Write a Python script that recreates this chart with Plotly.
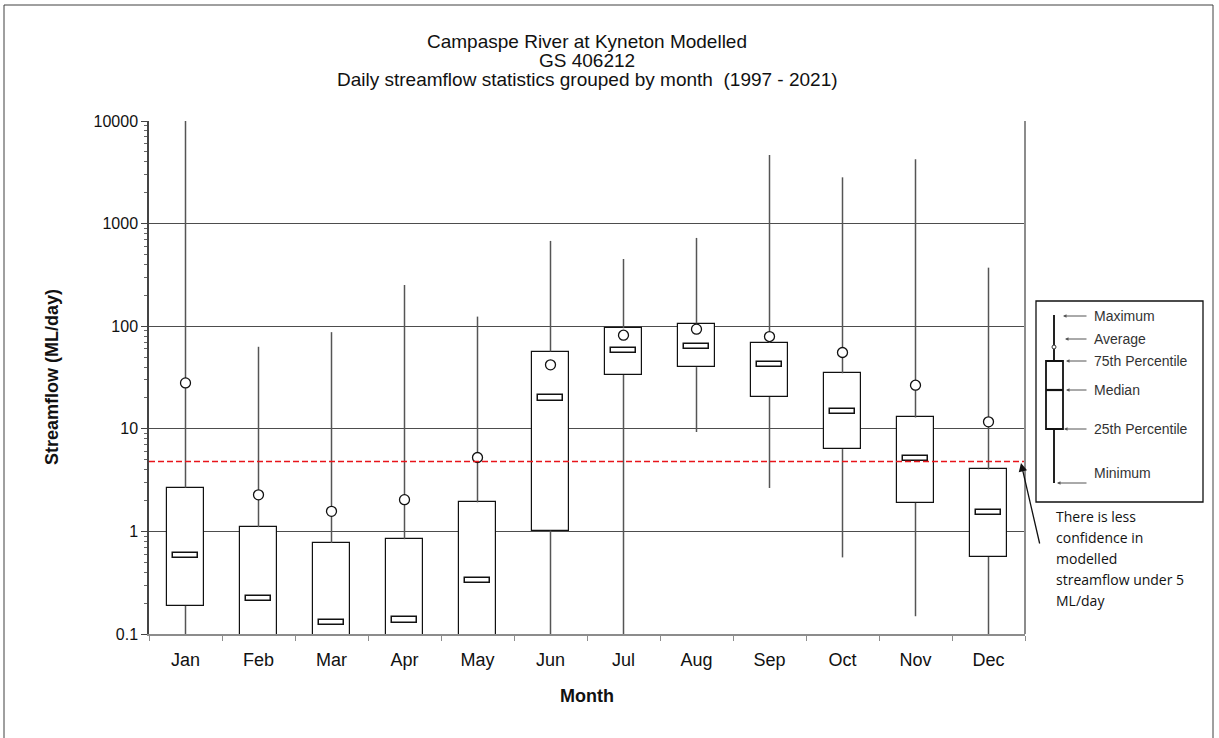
import plotly.graph_objects as go

MONTHS = ["Jan", "Feb", "Mar", "Apr", "May", "Jun",
          "Jul", "Aug", "Sep", "Oct", "Nov", "Dec"]

# daily streamflow stats (ML/day)
MAX_FLOW = [10500, 63, 87.5, 252, 124, 678, 452, 725, 4660, 2825, 4230, 372]
MEAN_FLOW = [28, 2.27, 1.57, 2.04, 5.25, 42, 81.7, 93.5, 79.3, 55.4, 26.6, 11.7]
P75_FLOW = [2.66, 1.10, 0.77, 0.84, 1.92, 56.6, 95.5, 106, 68.8, 34.8, 12.9, 4.02]
MEDIAN_FLOW = [0.58, 0.223, 0.13, 0.137, 0.333, 20, 57.5, 63.2, 42, 14.7, 5.14, 1.52]
P25_FLOW = [0.188, 0.03, 0.03, 0.03, 0.03, 1.02, 33.4, 39.9, 20.4, 6.34, 1.90, 0.563]
MIN_FLOW = [0.02, 0.01, 0.01, 0.01, 0.01, 0.02, 0.02, 9.3, 2.65, 0.558, 0.149, 0.03]

CONFIDENCE_LIMIT = 4.8

Y_TICKS = [0.1, 1, 10, 100, 1000, 10000]
Y_TICK_TEXT = ["0.1", "1", "10", "100", "1000", "10000"]

TITLE_LINES = [
    "Campaspe River at Kyneton Modelled",
    "GS 406212",
    "Daily streamflow statistics grouped by month  (1997 - 2021)",
]
NOTE_LINES = ["There is less", "confidence in", "modelled",
              "streamflow under 5", "ML/day"]
KEY_LABELS = ["Maximum", "Average", "75th Percentile",
              "Median", "25th Percentile", "Minimum"]

FONT = "Liberation Sans, Arial, sans-serif"

# plot area in page pixels
PL, PR, PT, PB = 149, 1025, 121, 634
W, H = PR - PL, PB - PT


def px(x):
    return (x - PL) / W


def py(y):
    return (PB - y) / H


def whisker_xy():
    xs, ys = [], []
    for m, lo, q1, q3, hi in zip(MONTHS, MIN_FLOW, P25_FLOW, P75_FLOW, MAX_FLOW):
        xs += [m, m, None, m, m, None]
        ys += [lo, q1, None, q3, hi, None]
    return xs, ys


fig = go.Figure()

wx, wy = whisker_xy()
fig.add_trace(go.Scatter(
    x=wx, y=wy, mode="lines",
    line={"color": "#555555", "width": 1.5},
    hoverinfo="skip", showlegend=False,
))

fig.add_trace(go.Bar(
    x=MONTHS,
    y=[q3 - q1 for q1, q3 in zip(P25_FLOW, P75_FLOW)],
    base=P25_FLOW,
    width=0.5,
    marker={"color": "white", "line": {"color": "#111111", "width": 1.2}},
    showlegend=False,
))

# median drawn as a small hollow bar
fig.add_trace(go.Bar(
    x=MONTHS,
    y=[m * 1.06 - m / 1.06 for m in MEDIAN_FLOW],
    base=[m / 1.06 for m in MEDIAN_FLOW],
    width=0.35,
    marker={"color": "white", "line": {"color": "#111111", "width": 1.5}},
    showlegend=False,
))

fig.add_trace(go.Scatter(
    x=MONTHS, y=MEAN_FLOW, mode="markers",
    marker={"symbol": "circle", "size": 10, "color": "white",
            "line": {"color": "#111111", "width": 1.3}},
    showlegend=False,
))

fig.add_shape(
    type="line", xref="paper", yref="y",
    x0=0, x1=1, y0=CONFIDENCE_LIMIT, y1=CONFIDENCE_LIMIT,
    line={"color": "#e8141a", "width": 1.3, "dash": "6px,3px"},
)

# outer frame
fig.add_shape(
    type="rect", xref="paper", yref="paper",
    x0=px(4), x1=px(1213), y0=py(745), y1=py(5),
    line={"color": "#404040", "width": 1},
)

# right border of plot area
fig.add_shape(
    type="line", xref="paper", yref="paper",
    x0=1, x1=1, y0=0, y1=1,
    line={"color": "#8c8c8c", "width": 2},
)

for i, line in enumerate(TITLE_LINES):
    fig.add_annotation(
        x=0.5, y=py(29 + 19 * i), xref="paper", yref="paper",
        text=line, showarrow=False,
        font={"family": FONT, "size": 19, "color": "#111111"},
    )

fig.add_annotation(
    x=px(40), y=py(377), xref="paper", yref="paper",
    text="<b>Streamflow (ML/day)</b>", textangle=-90, showarrow=False,
    font={"family": FONT, "size": 18, "color": "#111111"},
)
fig.add_annotation(
    x=0.5, y=py(708), xref="paper", yref="paper",
    text="<b>Month</b>", showarrow=False,
    font={"family": FONT, "size": 18, "color": "#111111"},
)

# note about low flow confidence
fig.add_annotation(
    x=px(1021), y=py(463), xref="paper", yref="paper",
    ax=19, ay=82, text="", showarrow=True,
    arrowhead=2, arrowsize=1.3, arrowwidth=1.3, arrowcolor="#111111",
)
for i, line in enumerate(NOTE_LINES):
    fig.add_annotation(
        x=px(1054), y=py(528 + 21 * i), xref="paper", yref="paper",
        text=line, showarrow=False, xanchor="left",
        font={"family": "Open Sans, Noto Sans, sans-serif", "size": 14,
              "color": "#111111"},
    )

# key box explaining the box plot
fig.add_shape(type="rect", xref="paper", yref="paper",
              x0=px(1036), x1=px(1203), y0=py(502), y1=py(301),
              line={"color": "#111111", "width": 1.3})
fig.add_shape(type="line", xref="paper", yref="paper",
              x0=px(1054), x1=px(1054), y0=py(483), y1=py(315),
              line={"color": "#222222", "width": 2})
fig.add_shape(type="rect", xref="paper", yref="paper",
              x0=px(1046), x1=px(1063), y0=py(429), y1=py(361),
              fillcolor="white", line={"color": "#111111", "width": 1.8})
fig.add_shape(type="line", xref="paper", yref="paper",
              x0=px(1046), x1=px(1063), y0=py(390), y1=py(390),
              line={"color": "#111111", "width": 2.2})
fig.add_shape(type="circle", xref="paper", yref="paper",
              x0=px(1052), x1=px(1056), y0=py(349), y1=py(345),
              fillcolor="white", line={"color": "#333333", "width": 1})

key_y = [316, 339, 361, 390, 429, 483]
key_head = [1063, 1065, 1066, 1066, 1064, 1057]
for label, ky, hx in zip(KEY_LABELS, key_y, key_head):
    fig.add_annotation(
        x=px(hx), y=py(ky), xref="paper", yref="paper",
        ax=1088 - hx, ay=0, text="", showarrow=True,
        arrowhead=2, arrowsize=0.7, arrowwidth=1, arrowcolor="#555555",
    )
    fig.add_annotation(
        x=px(1092), y=py(ky), xref="paper", yref="paper",
        text=label, showarrow=False, xanchor="left",
        font={"family": FONT, "size": 14, "color": "#333333"},
    )

fig.update_layout(
    width=1219, height=738,
    margin={"l": PL, "r": 1219 - PR, "t": PT, "b": 738 - PB},
    paper_bgcolor="white", plot_bgcolor="white",
    barmode="overlay", bargap=0,
    font={"family": FONT, "size": 17, "color": "#111111"},
    showlegend=False,
)
fig.update_xaxes(
    type="category", range=[-0.5, len(MONTHS) - 0.5],
    tickson="boundaries", ticks="outside", ticklen=5, tickcolor="#8c8c8c",
    ticklabelstandoff=8,
    showline=True, linecolor="#8c8c8c", linewidth=2,
    showgrid=False,
    tickfont={"family": FONT, "size": 18, "color": "#111111"},
)
fig.update_yaxes(
    type="log", range=[-1, 4],
    tickvals=Y_TICKS, ticktext=Y_TICK_TEXT,
    ticks="outside", ticklen=6, tickcolor="#444444",
    minor={"ticks": "outside", "ticklen": 3, "tickcolor": "#666666",
           "dtick": "D1", "showgrid": False},
    showline=True, linecolor="#444444", linewidth=1.5,
    showgrid=True, gridcolor="#4d4d4d", gridwidth=1,
    zeroline=False,
    tickfont={"family": FONT, "size": 16, "color": "#111111"},
)

# the page's default body margin would shift the chart by 8px
fig.write_html("out.html", config={"displayModeBar": False},
               post_script="document.body.style.margin = '0px';")
